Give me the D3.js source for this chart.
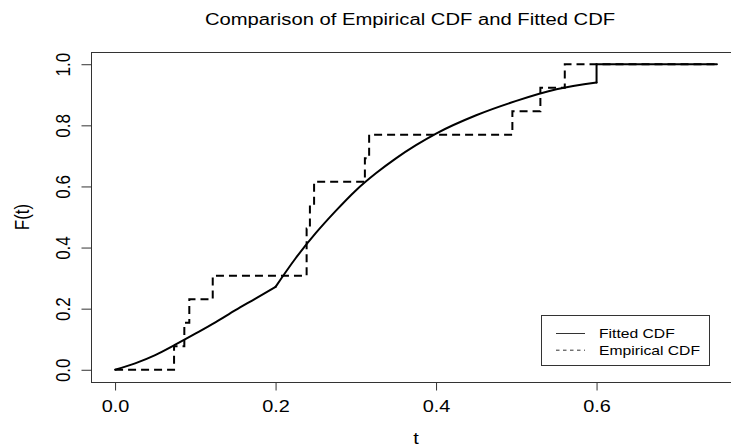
<!DOCTYPE html>
<html>
<head>
<meta charset="utf-8">
<script src="https://cdn.jsdelivr.net/npm/d3@7"></script>
<style>
  body { margin: 0; background: #fff; }
  text { font-family: "Liberation Sans", Arial, sans-serif; fill: #000; }
</style>
</head>
<body>
<script>
// fitted CDF: first piece up to the kink at t = 0.2
const fitT1 = [0, 0.025, 0.05, 0.075, 0.1, 0.125, 0.15, 0.175, 0.2];
const fitF1 = [0, 0.021, 0.048, 0.082, 0.118, 0.155, 0.195, 0.233, 0.2715];
// second piece, 0.2 .. 0.6
const fitT2 = [0.2, 0.225, 0.25, 0.275, 0.3, 0.325, 0.35, 0.375, 0.4, 0.45, 0.5, 0.55, 0.6];
const fitF2 = [0.2715, 0.365, 0.447, 0.52, 0.587, 0.643, 0.692, 0.735, 0.773, 0.833, 0.88, 0.918, 0.94];
// jump at 0.6 and flat tail
const tailT = [0.6, 0.6, 0.75];
const tailF = [0.94, 1.0, 1.0];

// empirical CDF jump points (step after)
const ecdfT = [0, 0.0735, 0.0863, 0.0925, 0.1217, 0.2387, 0.2428, 0.248, 0.3113, 0.3166, 0.4951, 0.530, 0.5604, 0.75];
const ecdfF = [0, 0.077, 0.154, 0.231, 0.308, 0.462, 0.538, 0.615, 0.692, 0.769, 0.846, 0.923, 1.0, 1.0];

const xTicks = [0, 0.2, 0.4, 0.6];
const yTicks = [0, 0.2, 0.4, 0.6, 0.8, 1.0];
const legendLabels = ["Fitted CDF", "Empirical CDF"];

const W = 731, H = 448;
const pLeft = 91, pRight = 741, pTop = 52, pBottom = 382;
const sx = 1.17; // text is a bit wider than tall in the picture

const svg = d3.select("body").append("svg")
  .attr("width", W)
  .attr("height", H);

const x = d3.scaleLinear().domain([-0.03, 0.78]).range([pLeft, pRight]);
const y = d3.scaleLinear().domain([-0.04, 1.04]).range([pBottom, pTop]);

// plot box
svg.append("rect")
  .attr("x", pLeft + 0.5).attr("y", pTop + 0.5)
  .attr("width", pRight - pLeft).attr("height", pBottom - pTop)
  .attr("fill", "none").attr("stroke", "#333").attr("stroke-width", 1);

// x axis
const gx = svg.append("g")
  .attr("transform", `translate(0,${pBottom + 0.5})`)
  .call(d3.axisBottom(x).tickValues(xTicks).tickSize(8).tickFormat(d3.format(".1f")));
gx.select(".domain").remove();
gx.selectAll("line").attr("stroke", "#333");
gx.selectAll("text")
  .attr("y", 0).attr("dy", null)
  .attr("transform", `translate(0,29.5) scale(${sx},1)`)
  .style("font-size", "17px");

// y axis
const gy = svg.append("g")
  .attr("transform", `translate(${pLeft + 0.5},0)`)
  .call(d3.axisLeft(y).tickValues(yTicks).tickSize(10).tickFormat(d3.format(".1f")));
gy.select(".domain").remove();
gy.selectAll("line").attr("stroke", "#333");
gy.selectAll("text")
  .attr("x", 0).attr("dy", null)
  .attr("text-anchor", "middle")
  .attr("transform", `translate(-22,0) scale(${sx},1) rotate(-90)`)
  .style("font-size", "17px");

// axis titles and main title
svg.append("text")
  .attr("transform", `translate(${(pLeft + pRight) / 2},444) scale(${sx},1)`)
  .attr("text-anchor", "middle")
  .style("font-size", "17px")
  .text("t");

svg.append("text")
  .attr("transform", `translate(29,${(pTop + pBottom) / 2}) scale(${sx},1) rotate(-90)`)
  .attr("text-anchor", "middle")
  .style("font-size", "17px")
  .text("F(t)");

svg.append("text")
  .attr("transform", `translate(410,25) scale(${sx},1)`)
  .attr("text-anchor", "middle")
  .style("font-size", "17.3px")
  .text("Comparison of Empirical CDF and Fitted CDF");

// lines
const smooth = d3.line().x(d => x(d[0])).y(d => y(d[1])).curve(d3.curveMonotoneX);
const straight = d3.line().x(d => x(d[0])).y(d => y(d[1]));
const step = d3.line().x(d => x(d[0])).y(d => y(d[1])).curve(d3.curveStepAfter);

const zip = (a, b) => a.map((v, i) => [v, b[i]]);

svg.append("path")
  .attr("d", step(zip(ecdfT, ecdfF)))
  .attr("fill", "none").attr("stroke", "#000").attr("stroke-width", 2)
  .attr("stroke-dasharray", "8,5");

[smooth(zip(fitT1, fitF1)), smooth(zip(fitT2, fitF2)), straight(zip(tailT, tailF))].forEach(d => {
  svg.append("path")
    .attr("d", d)
    .attr("fill", "none").attr("stroke", "#000").attr("stroke-width", 2)
    .attr("stroke-linecap", "round");
});

// legend, bottom right
const lg = svg.append("g");
lg.append("rect")
  .attr("x", 541.5).attr("y", 315.5)
  .attr("width", 168).attr("height", 50)
  .attr("fill", "#fff").attr("stroke", "#333").attr("stroke-width", 1);

legendLabels.forEach((lab, i) => {
  const yy = 333.5 + i * 16.7;
  lg.append("line")
    .attr("x1", 556).attr("x2", 585)
    .attr("y1", yy).attr("y2", yy)
    .attr("stroke", "#333").attr("stroke-width", 1)
    .attr("stroke-dasharray", i === 1 ? "3.5,3.5" : null);
  lg.append("text")
    .attr("transform", `translate(599,${yy + 4.5}) scale(${sx},1)`)
    .style("font-size", "13.4px")
    .text(lab);
});
</script>
</body>
</html>
